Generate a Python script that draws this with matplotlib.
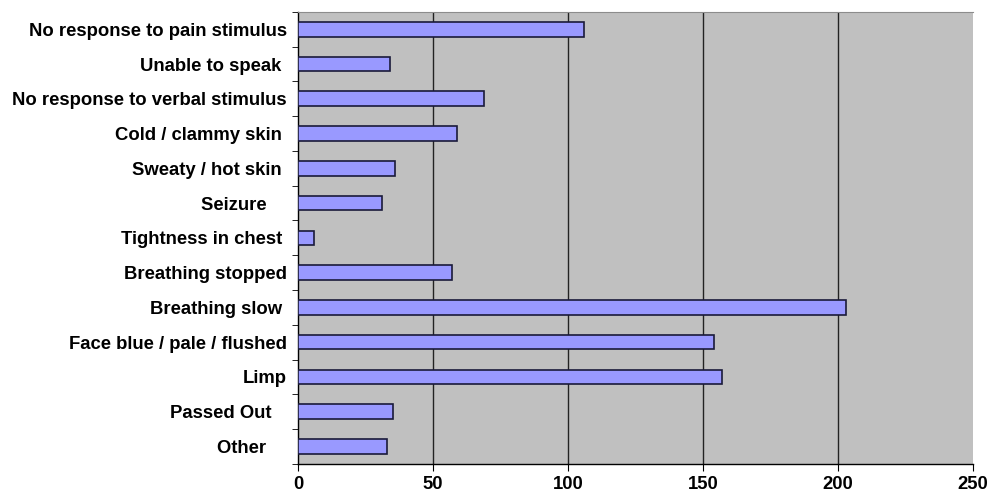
import matplotlib.pyplot as plt
import numpy as np

plt.rcParams['font.family'] = ['Liberation Sans', 'DejaVu Sans']

# categories listed top to bottom
labels = ["No response to pain stimulus", "Unable to speak ", "No response to verbal stimulus",
          "Cold / clammy skin ", "Sweaty / hot skin ", "Seizure    ", "Tightness in chest ",
          "Breathing stopped", "Breathing slow ", "Face blue / pale / flushed", "Limp",
          "Passed Out   ", "Other    "]
counts = [106, 34, 69, 59, 36, 31, 6, 57, 203, 154, 157, 35, 33]
xticks = [0, 50, 100, 150, 200, 250]

fig, ax = plt.subplots(figsize=(9.92, 4.94), dpi=100)
fig.subplots_adjust(left=0.3004, right=0.981, top=0.976, bottom=0.061)

y = np.arange(len(labels))[::-1]
ax.set_facecolor('#C0C0C0')
ax.barh(y, counts, height=0.42, color='#9999FF', edgecolor='#1a1a3a', linewidth=1.2, zorder=3)

ax.set_xlim(0, 250)
ax.set_ylim(-0.5, len(labels) - 0.5)
ax.set_xticks(xticks)
ax.set_xticklabels([str(t) for t in xticks], fontsize=13.3, fontweight='bold')
ax.set_yticks(y)
ax.set_yticklabels(labels, fontsize=13.3, fontweight='bold')
ax.tick_params(axis='y', length=0, pad=8)
ax.set_yticks(np.arange(-0.5, len(labels), 1), minor=True)
ax.tick_params(axis='y', which='minor', length=4, direction='out', color='black')
ax.tick_params(axis='x', length=5, direction='out', pad=4)

for gx in xticks[1:-1]:
    ax.axvline(gx, color='#222222', linewidth=1.0, zorder=1)

ax.spines['top'].set_color('#8c8c8c')
ax.spines['right'].set_visible(False)
ax.spines['left'].set_linewidth(1.0)
ax.spines['bottom'].set_linewidth(1.0)

plt.savefig('out.png', dpi=100)
